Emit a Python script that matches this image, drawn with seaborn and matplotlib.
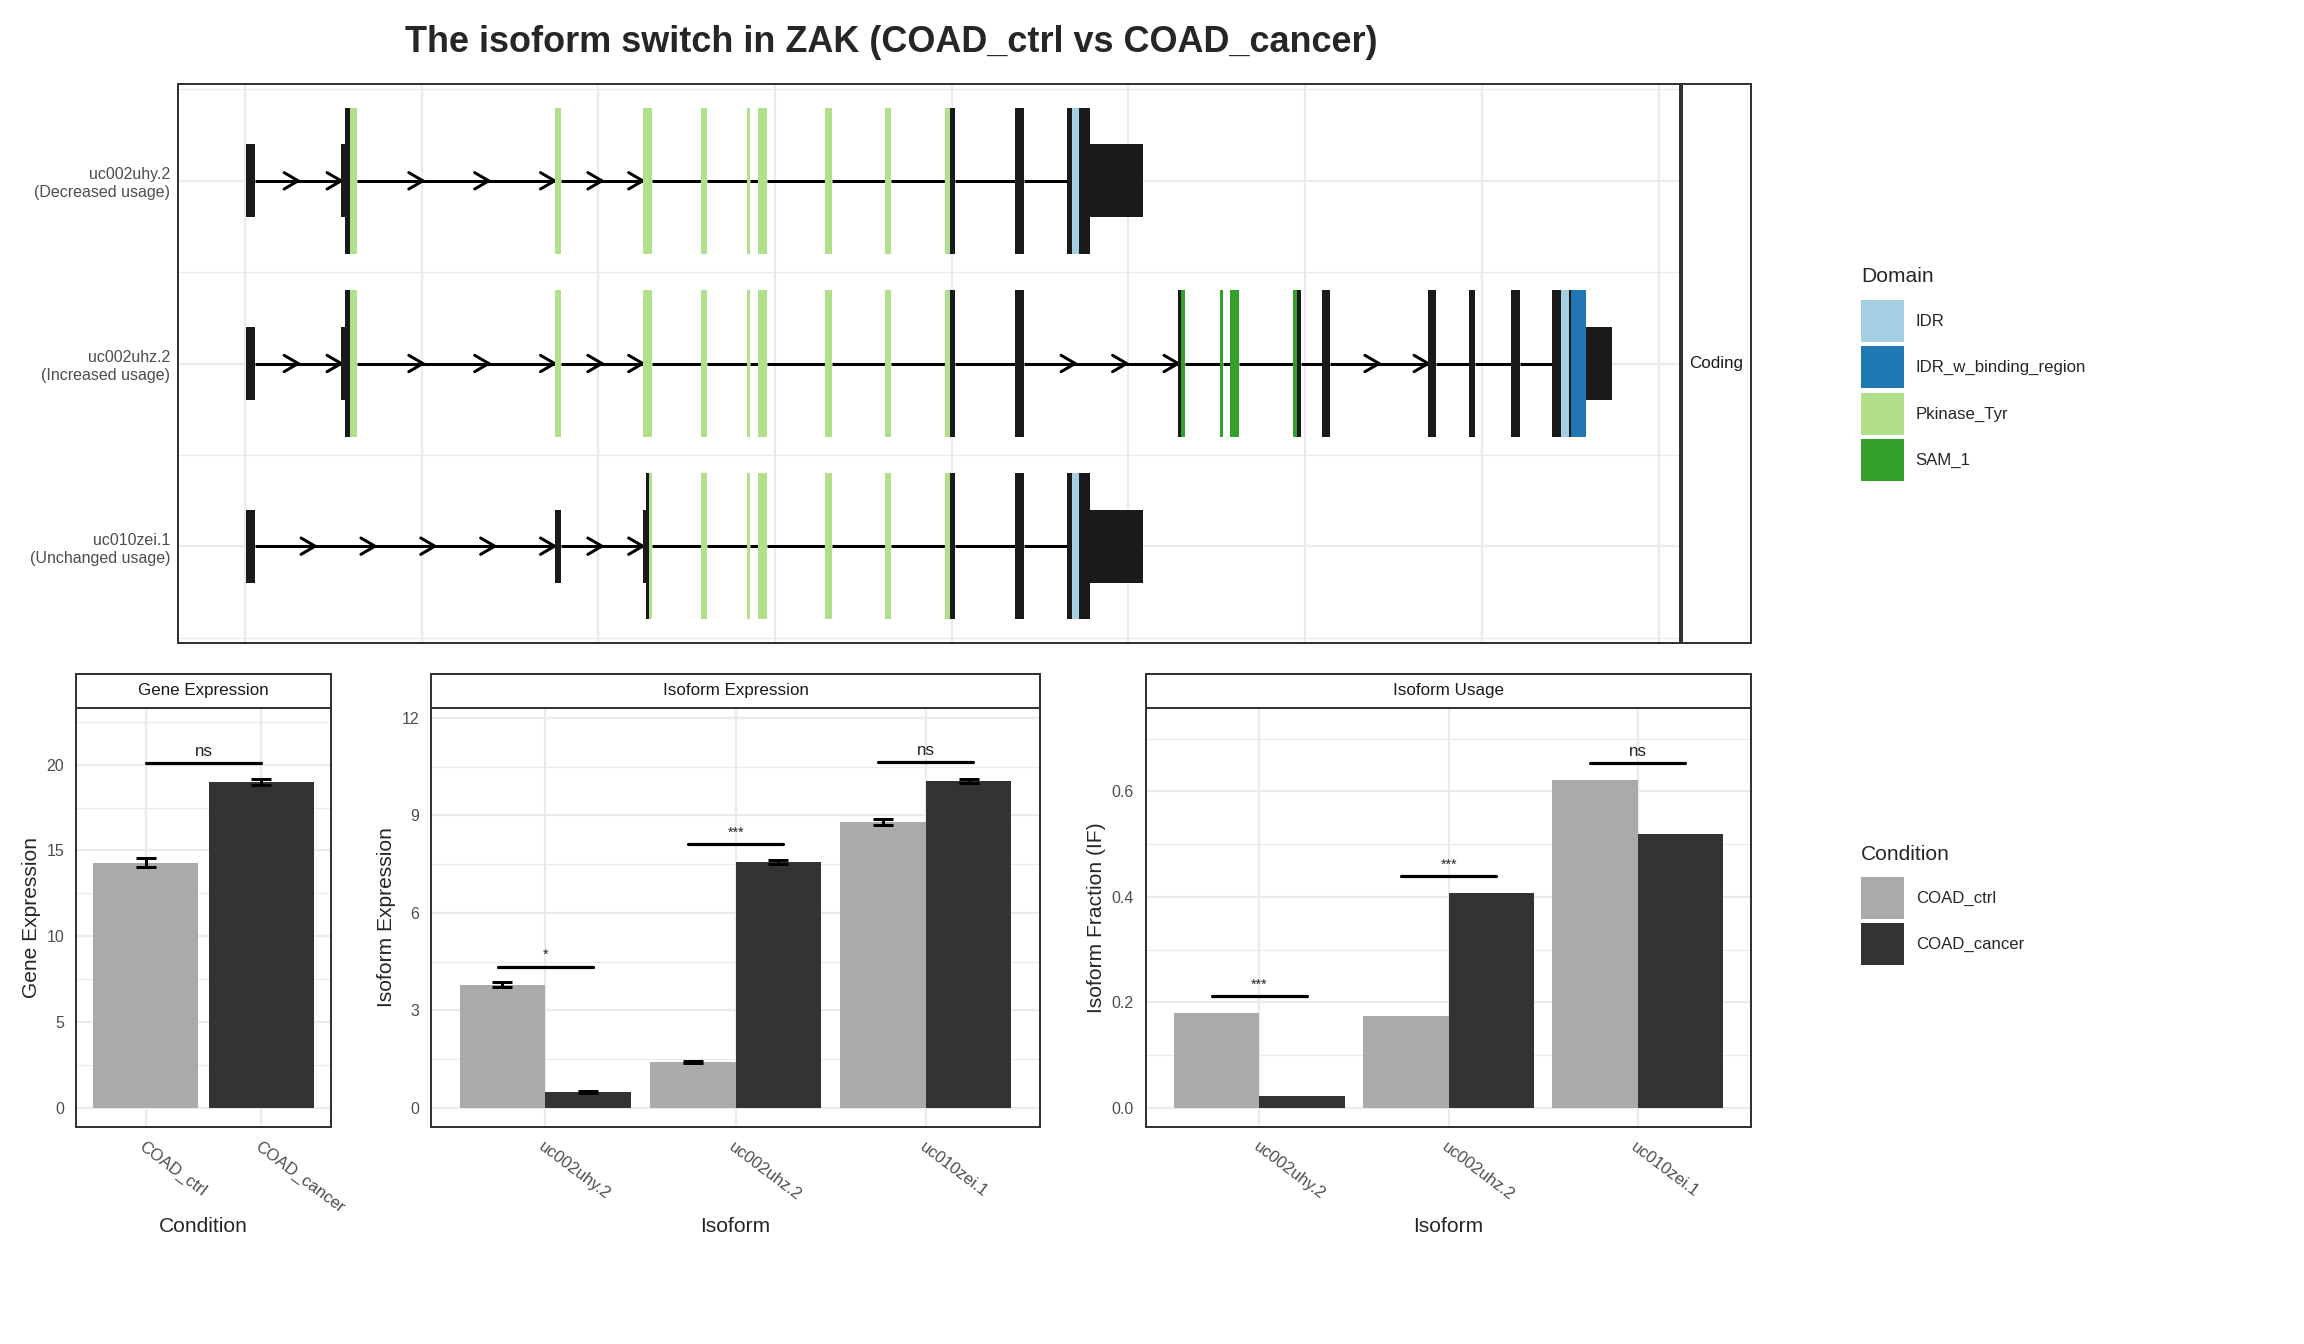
import numpy as np
import pandas as pd
import matplotlib
matplotlib.use("Agg")
import matplotlib.pyplot as plt
import seaborn as sns
from matplotlib.patches import Patch
from matplotlib.ticker import MultipleLocator, FixedLocator

W, H, DPI = 2304, 1344, 144

# ---------------- transcript structures (relative position, grid step = 10) ----------------
transcript_labels = ["uc002uhy.2\n(Decreased usage)",
                     "uc002uhz.2\n(Increased usage)",
                     "uc010zei.1\n(Unchanged usage)"]

# each exon is a list of (start, end, feature); UTR = short black, CDS = tall black
exon_first = [(0.07, 0.58, "UTR")]
exon_2 = [(5.44, 5.68, "UTR"), (5.68, 5.96, "CDS"), (5.96, 6.34, "Pkinase_Tyr")]
exon_3 = [(17.52, 17.89, "Pkinase_Tyr")]
exon_4 = [(22.51, 23.05, "Pkinase_Tyr")]
exons_5_to_11 = [
    [(25.78, 26.12, "Pkinase_Tyr")],
    [(28.39, 28.56, "Pkinase_Tyr")],
    [(29.01, 29.52, "Pkinase_Tyr")],
    [(32.80, 33.20, "Pkinase_Tyr")],
    [(36.20, 36.54, "Pkinase_Tyr")],
    [(39.60, 39.88, "Pkinase_Tyr"), (39.88, 40.16, "CDS")],
    [(43.56, 44.07, "CDS")],
]
exon_last_short = [(46.51, 46.78, "CDS"), (46.78, 47.18, "IDR"),
                   (47.18, 47.81, "CDS"), (47.81, 50.80, "UTR")]
exons_uhz_tail = [
    [(52.81, 53.00, "CDS"), (53.00, 53.19, "SAM_1")],
    [(55.17, 55.36, "SAM_1")],
    [(55.74, 56.25, "SAM_1")],
    [(59.32, 59.51, "SAM_1"), (59.51, 59.76, "CDS")],
    [(60.95, 61.40, "CDS")],
    [(66.96, 67.38, "CDS")],
    [(69.29, 69.63, "CDS")],
    [(71.65, 72.14, "CDS")],
    [(73.99, 74.48, "CDS"), (74.48, 74.93, "IDR"), (74.93, 75.02, "CDS"),
     (75.02, 75.90, "IDR_w_binding_region"), (75.90, 77.35, "UTR")],
]
zei_exon_2 = [(17.52, 17.89, "UTR")]
zei_exon_3 = [(22.51, 22.72, "UTR"), (22.72, 22.85, "CDS"), (22.85, 23.05, "Pkinase_Tyr")]

exons_uhy = [exon_first, exon_2, exon_3, exon_4] + exons_5_to_11 + [exon_last_short]
exons_uhz = [exon_first, exon_2, exon_3, exon_4] + exons_5_to_11 + exons_uhz_tail
exons_zei = [exon_first, zei_exon_2, zei_exon_3] + exons_5_to_11 + [exon_last_short]

# number of direction arrows drawn on each intron
arrows_uhy = [2, 3, 2, 0, 0, 0, 0, 0, 0, 0, 0]
arrows_uhz = [2, 3, 2, 0, 0, 0, 0, 0, 0, 0, 3, 0, 0, 0, 0, 2, 0, 0, 0]
arrows_zei = [5, 2, 0, 0, 0, 0, 0, 0, 0, 0]

domain_names = ["IDR", "IDR_w_binding_region", "Pkinase_Tyr", "SAM_1"]
domain_colors = ["#A6CEE3", "#1F78B4", "#B2DF8A", "#33A02C"]

# ---------------- expression data ----------------
conditions = ["COAD_ctrl", "COAD_cancer"]
condition_colors = ["#AAAAAA", "#333333"]
isoforms = ["uc002uhy.2", "uc002uhz.2", "uc010zei.1"]

gene_expr = [14.28, 19.00]
gene_se = [0.27, 0.17]
gene_sig_y = 20.09
gene_sig_label = "ns"

iso_expr_ctrl = [3.79, 1.42, 8.80]
iso_expr_cancer = [0.49, 7.56, 10.06]
iso_se_ctrl = [0.08, 0.03, 0.09]
iso_se_cancer = [0.04, 0.06, 0.07]
iso_sig_y = [4.35, 8.13, 10.64]
iso_sig_label = ["*", "***", "ns"]

usage_ctrl = [0.180, 0.174, 0.622]
usage_cancer = [0.023, 0.407, 0.520]
usage_sig_y = [0.212, 0.439, 0.654]
usage_sig_label = ["***", "***", "ns"]

# ---------------- styling ----------------
sns.set_style("white")
plt.rcParams["font.family"] = ["Liberation Sans", "DejaVu Sans"]

GRID = "#EBEBEB"
BORDER = "#333333"
TICKTXT = "#4D4D4D"
EXON = "#1A1A1A"
feature_color = dict(zip(domain_names, domain_colors))
feature_color["UTR"] = EXON
feature_color["CDS"] = EXON


def px_rect(x0, y0, x1, y1):
    return [x0 / W, 1 - y1 / H, (x1 - x0) / W, (y1 - y0) / H]


def add_strip(fig, rect, text):
    sax = fig.add_axes(rect)
    sax.set_xticks([])
    sax.set_yticks([])
    sax.set_facecolor("white")
    for sp in sax.spines.values():
        sp.set_color(BORDER)
        sp.set_linewidth(1.0)
    sax.text(0.5, 0.5, text, ha="center", va="center", fontsize=8.5,
             color="#1A1A1A", transform=sax.transAxes)
    return sax


def style_panel(ax):
    ax.set_facecolor("white")
    ax.set_axisbelow(True)
    for sp in ax.spines.values():
        sp.set_color(BORDER)
        sp.set_linewidth(1.0)
        sp.set_visible(True)
    ax.tick_params(which="major", length=4, width=1, color=BORDER,
                   labelsize=8, labelcolor=TICKTXT, pad=2)
    ax.tick_params(which="minor", length=0)


def draw_transcript(ax, y, exons, arrows):
    ends = [ex[-1][1] for ex in exons[:-1]]
    starts = [ex[0][0] for ex in exons[1:]]
    for a, b, n in zip(ends, starts, arrows):
        ax.plot([a, b], [y, y], color="black", lw=1.5, zorder=1, solid_capstyle="butt")
        if n:
            step = (b - a) / n
            for k in range(1, n + 1):
                tip = a + k * step
                ax.plot([tip - 0.8, tip, tip - 0.8], [y - 0.045, y, y + 0.045],
                        color="black", lw=1.5, zorder=1, solid_joinstyle="miter")
    for ex in exons:
        for s, e, kind in ex:
            h = 0.2 if kind == "UTR" else 0.4
            ax.bar(x=s, height=2 * h, width=e - s, bottom=y - h, align="edge",
                   color=feature_color[kind], linewidth=0, zorder=2)


fig = plt.figure(figsize=(W / DPI, H / DPI), dpi=DPI)

# ---------------- top: transcript structures ----------------
ax_tx = fig.add_axes(px_rect(178, 84, 1680, 643))
style_panel(ax_tx)
all_tx = [exons_uhy, exons_uhz, exons_zei]
all_arrows = [arrows_uhy, arrows_uhz, arrows_zei]
for i, (exs, arr) in enumerate(zip(all_tx, all_arrows)):
    draw_transcript(ax_tx, i + 1, exs, arr)

xs = [seg[j] for exs in all_tx for ex in exs for seg in ex for j in (0, 1)]
xmin, xmax = min(xs), max(xs)
pad = 0.05 * (xmax - xmin)
ax_tx.set_xlim(xmin - pad, xmax + pad)
ax_tx.set_ylim(3.53, 0.47)
ax_tx.xaxis.set_major_locator(MultipleLocator(10))
ax_tx.set_xticklabels([])
ax_tx.tick_params(axis="x", length=0)
ax_tx.tick_params(axis="y", length=3, pad=1)
ax_tx.set_yticks([1, 2, 3])
ax_tx.set_yticklabels(transcript_labels, fontsize=8, color=TICKTXT, linespacing=1.25)
ax_tx.yaxis.set_minor_locator(FixedLocator([0.5, 1.5, 2.5, 3.5]))
ax_tx.grid(which="major", color=GRID, lw=1.1)
ax_tx.grid(which="minor", axis="y", color=GRID, lw=0.55)
ax_tx.set_xlabel("")
ax_tx.set_ylabel("")
add_strip(fig, px_rect(1682, 84, 1751, 643), "Coding")

# ---------------- bottom: bar panels ----------------
strip_y0, strip_y1, panel_y1 = 674, 708, 1127

# gene expression
ax_g = fig.add_axes(px_rect(76, strip_y1, 331, panel_y1))
gene_df = pd.DataFrame({"Condition": conditions, "value": gene_expr})
sns.barplot(data=gene_df, x="Condition", y="value", hue="Condition", order=conditions,
            hue_order=conditions, palette=condition_colors, width=0.9, saturation=1,
            errorbar=None, legend=False, ax=ax_g, zorder=2, linewidth=0)
ax_g.errorbar(range(len(conditions)), gene_expr, yerr=gene_se, fmt="none",
              ecolor="black", elinewidth=1.5, capsize=5, capthick=1.5, zorder=3)
ax_g.plot([0, 1], [gene_sig_y, gene_sig_y], color="black", lw=1.6, zorder=3)
ax_g.text(0.5, gene_sig_y + 0.25, gene_sig_label, ha="center", va="bottom", fontsize=8.5)
ax_g.set_ylim(-1.11, 23.3)
ax_g.set_xlim(-0.6, 1.6)
ax_g.yaxis.set_major_locator(MultipleLocator(5))
ax_g.yaxis.set_minor_locator(MultipleLocator(2.5))
style_panel(ax_g)
ax_g.grid(which="major", color=GRID, lw=1.1)
ax_g.grid(which="minor", axis="y", color=GRID, lw=0.55)
ax_g.set_xlabel("Condition", fontsize=10.5)
ax_g.set_ylabel("Gene Expression", fontsize=10.5)
add_strip(fig, px_rect(76, strip_y0, 331, strip_y1), "Gene Expression")


def grouped_panel(rect, ctrl, cancer, ylim, major, minor, ylabel, strip_text,
                  sig_y, sig_lab, sig_off, se_ctrl=None, se_cancer=None):
    ax = fig.add_axes(px_rect(*rect))
    df = pd.DataFrame({
        "Isoform": isoforms * 2,
        "Condition": [conditions[0]] * 3 + [conditions[1]] * 3,
        "value": list(ctrl) + list(cancer),
    })
    sns.barplot(data=df, x="Isoform", y="value", hue="Condition", order=isoforms,
                hue_order=conditions, palette=condition_colors, width=0.9, gap=0,
                saturation=1, errorbar=None, legend=False, ax=ax, zorder=2, linewidth=0)
    pos = np.arange(len(isoforms))
    if se_ctrl is not None:
        ax.errorbar(pos - 0.225, ctrl, yerr=se_ctrl, fmt="none", ecolor="black",
                    elinewidth=1.5, capsize=5, capthick=1.5, zorder=3)
        ax.errorbar(pos + 0.225, cancer, yerr=se_cancer, fmt="none", ecolor="black",
                    elinewidth=1.5, capsize=5, capthick=1.5, zorder=3)
    for p, yv, lab in zip(pos, sig_y, sig_lab):
        ax.plot([p - 0.25, p + 0.25], [yv, yv], color="black", lw=1.6, zorder=3)
        fs = 8.5 if lab == "ns" else 7
        ax.text(p, yv + sig_off, lab, ha="center", va="bottom", fontsize=fs)
    ax.set_ylim(*ylim)
    ax.set_xlim(-0.6, 2.6)
    ax.yaxis.set_major_locator(MultipleLocator(major))
    ax.yaxis.set_minor_locator(MultipleLocator(minor))
    style_panel(ax)
    ax.grid(which="major", color=GRID, lw=1.1)
    ax.grid(which="minor", axis="y", color=GRID, lw=0.55)
    ax.set_xlabel("Isoform", fontsize=10.5)
    ax.set_ylabel(ylabel, fontsize=10.5)
    add_strip(fig, px_rect(rect[0], strip_y0, rect[2], strip_y1), strip_text)
    return ax


ax_ie = grouped_panel((431, strip_y1, 1040, panel_y1), iso_expr_ctrl, iso_expr_cancer,
                      (-0.586, 12.3), 3, 1.5, "Isoform Expression", "Isoform Expression",
                      iso_sig_y, iso_sig_label, 0.13, iso_se_ctrl, iso_se_cancer)
ax_iu = grouped_panel((1146, strip_y1, 1751, panel_y1), usage_ctrl, usage_cancer,
                      (-0.036, 0.758), 0.2, 0.1, "Isoform Fraction (IF)", "Isoform Usage",
                      usage_sig_y, usage_sig_label, 0.008)
ax_iu.yaxis.set_major_formatter(matplotlib.ticker.FormatStrFormatter("%.1f"))

for ax in (ax_g, ax_ie, ax_iu):
    plt.setp(ax.get_xticklabels(), rotation=-37, ha="left", va="top",
             rotation_mode="anchor", fontsize=8.3, color=TICKTXT)
    ax.xaxis.set_label_coords(0.5, -(1226 - panel_y1) / (panel_y1 - strip_y1))
    ax.xaxis.label.set_va("center")

ax_g.yaxis.set_label_coords((32 - 76) / (331 - 76), 0.5)
ax_ie.yaxis.set_label_coords((387 - 431) / (1040 - 431), 0.5)
ax_iu.yaxis.set_label_coords((1096 - 1146) / (1751 - 1146), 0.5)
for ax in (ax_g, ax_ie, ax_iu):
    ax.yaxis.label.set_va("center")

# ---------------- legends ----------------
leg_kw = dict(loc="upper left", frameon=False, fontsize=8.4,
              handlelength=2.56, handleheight=3.45, handletextpad=0.7,
              labelspacing=0.28, borderpad=0, borderaxespad=0)
dom_handles = [Patch(facecolor=c, edgecolor="none") for c in domain_colors]
fig.legend(dom_handles, domain_names, bbox_to_anchor=(1861 / W, 1 - 300 / H), **leg_kw)
fig.text(1861 / W, 1 - 277 / H, "Domain", ha="left", va="center", fontsize=10.5)

cond_handles = [Patch(facecolor=c, edgecolor="none") for c in condition_colors]
fig.legend(cond_handles, conditions, bbox_to_anchor=(1861 / W, 1 - 877 / H), **leg_kw)
fig.text(1861 / W, 1 - 854 / H, "Condition", ha="left", va="center", fontsize=10.5)

fig.text(891 / W, 1 - 43 / H, "The isoform switch in ZAK (COAD_ctrl vs COAD_cancer)",
         ha="center", va="center", fontsize=18, fontweight="bold")

fig.savefig("out.png", dpi=DPI, facecolor="white")
